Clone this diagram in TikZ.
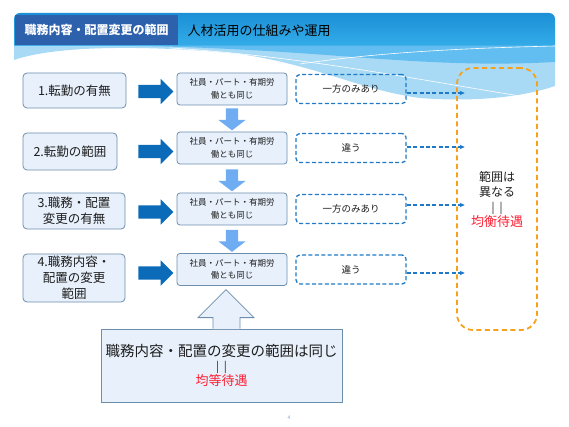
\documentclass[tikz,border=0pt]{standalone}
\usepackage{fontspec}
\setmainfont{Noto Sans CJK JP}
\usepackage{tikz}
\usetikzlibrary{arrows.meta, positioning, shapes.arrows, calc}
\definecolor{BandTop}{HTML}{1B90D6}
\definecolor{BandLow}{HTML}{34ACE9}
\definecolor{TabFill}{HTML}{2D61AB}
\definecolor{WaveMid}{HTML}{62BDF0}
\definecolor{WaveLite}{HTML}{A8DAF6}
\definecolor{BoxInk}{HTML}{6D8EAC}
\definecolor{BoxFill}{HTML}{E7F0FB}
\definecolor{RowArrow}{HTML}{0B6BB8}
\definecolor{StepArrow}{HTML}{6FACF1}
\definecolor{DashInk}{HTML}{1F79C6}
\definecolor{OrangeInk}{HTML}{F6A11C}
\definecolor{RedText}{HTML}{FF1F33}
\definecolor{TextInk}{HTML}{1E1E1E}
\definecolor{PageNum}{HTML}{8AA3CC}

\begin{document}
\begin{tikzpicture}[x=1pt, y=-1pt, >=Stealth,
  leftbox/.style={draw=BoxInk, fill=BoxFill, rounded corners=4pt, line width=0.8pt,
    align=center, inner sep=0pt, text=TextInk,
    font=\fontsize{12.5}{16}\selectfont},
  midbox/.style={draw=BoxInk, fill=BoxFill, rounded corners=3pt, line width=0.8pt,
    align=center, inner sep=0pt, minimum width=110pt, minimum height=32pt,
    text=TextInk, font=\fontsize{8.5}{12.5}\selectfont},
  dashbox/.style={draw=DashInk, dash pattern=on 4pt off 2.4pt, rounded corners=4pt,
    line width=1.3pt, inner sep=0pt, minimum width=110pt, minimum height=29pt,
    text=TextInk, font=\fontsize{9.5}{12}\selectfont},
  rarrow/.style={single arrow, fill=RowArrow, inner xsep=0pt, inner ysep=6.5pt,
    minimum height=35pt, single arrow head extend=6pt, single arrow tip angle=90},
  darrow/.style={single arrow, fill=StepArrow, inner xsep=0pt, inner ysep=6pt,
    minimum height=22pt, single arrow head extend=7.5pt, single arrow tip angle=105,
    rotate=-90},
  dasharrow/.style={->, >={Stealth[length=5pt, width=4.5pt]}, DashInk,
    dash pattern=on 4pt off 2.4pt, line width=1.5pt}]
\useasboundingbox (0,0) rectangle (569,427);

% header band and wave
\shade[top color=BandTop, bottom color=BandLow]
  (14,46) [rounded corners=6pt]-- (14,13) -- (555,13) [sharp corners]-- (555,46) -- cycle;
\fill[WaveLite] (14,46) -- (555,46) -- (555,86)
  .. controls (520,98) and (470,102) .. (420,98)
  .. controls (360,90) and (320,66) .. (240,54)
  .. controls (160,46) and (60,44) .. (14,60) -- cycle;
\fill[WaveMid] (140,46) -- (555,46) -- (555,62)
  .. controls (480,66) and (420,62) .. (340,56)
  .. controls (260,50) and (200,47) .. (140,46) -- cycle;
\draw[white, line width=0.6pt] (170,48) .. controls (300,56) and (420,80) .. (520,96);
\draw[white, line width=0.6pt] (300,64) .. controls (380,52) and (470,48) .. (555,46);

\node[fill=TabFill, minimum width=163pt, minimum height=30pt, inner sep=0pt,
      text=white, font=\fontsize{12}{14}\selectfont\bfseries] (tab) at (96.5,30)
  {職務内容・配置変更の範囲};
\node[anchor=west, text=black, font=\fontsize{13}{15}\selectfont] (title) at (184,31)
  {人材活用の仕組みや運用};

% left column
\node[leftbox, minimum width=103pt, minimum height=35pt] (left1) at (74.5,90.5)
  {1.転勤の有無};
\node[leftbox, minimum width=94pt, minimum height=37pt] (left2) at (70,151.5)
  {2.転勤の範囲};
\node[leftbox, minimum width=102pt, minimum height=36pt] (left3) at (74,211)
  {3.職務・配置\\変更の有無};
\node[leftbox, minimum width=102pt, minimum height=48pt] (left4) at (74,278)
  {4.職務内容・\\配置の変更\\範囲};

% middle column
\node[midbox] (mid1) at (232,89) {社員・パート・有期労\\働とも同じ};
\node[midbox] (mid2) at (232,148) {社員・パート・有期労\\働とも同じ};
\node[midbox] (mid3) at (232,209) {社員・パート・有期労\\働とも同じ};
\node[midbox] (mid4) at (232,269.5) {社員・パート・有期労\\働とも同じ};

\node[rarrow] (ra1) at (152.5,91.5) {};
\node[rarrow] (ra2) at (152.5,151.5) {};
\node[rarrow] (ra3) at (152.5,212) {};
\node[rarrow] (ra4) at (152.5,273) {};

\node[darrow, anchor=tip] (da1) at ([yshift=1pt]mid2.north) {};
\node[darrow, anchor=tip] (da2) at ([yshift=1pt]mid3.north) {};
\node[darrow, anchor=tip] (da3) at ([yshift=1pt]mid4.north) {};

% dashed column
\node[dashbox, right=8pt of mid1] (dash1) {一方のみあり};
\node[dashbox, right=8pt of mid2] (dash2) {違う};
\node[dashbox, right=8pt of mid3] (dash3) {一方のみあり};
\node[dashbox, right=8pt of mid4] (dash4) {違う};

\node[draw=OrangeInk, dash pattern=on 5pt off 3.5pt, line width=1.8pt,
      rounded corners=16pt, minimum width=80pt, minimum height=262pt,
      align=center, text=TextInk, font=\fontsize{12}{15}\selectfont] (orng) at (497,199)
  {範囲は\\異なる\\{\fontsize{11}{15}\selectfont |\hspace{5pt}|}\\
   {\color{RedText}\fontsize{13}{15}\selectfont 均衡待遇}};

\draw[dasharrow] ([yshift=-4pt]dash1.east) -- ++(58,0);
\draw[dasharrow] ([yshift=1pt]dash2.east) -- ++(58,0);
\draw[dasharrow] ([yshift=4pt]dash3.east) -- ++(58,0);
\draw[dasharrow] ([yshift=-3.5pt]dash4.east) -- ++(58,0);

% bottom callout
\node[draw=BoxInk, fill=BoxFill, line width=0.8pt, minimum width=241pt,
      minimum height=73pt, inner sep=0pt, align=center, text=TextInk,
      font=\fontsize{14.5}{15}\selectfont] (eqbox) at (221.5,365.5)
  {職務内容・配置の変更の範囲は同じ\\[-1pt]
   {\fontsize{11}{14}\selectfont |\hspace{5pt}|}\\
   {\color{RedText}\fontsize{13}{14}\selectfont 均等待遇}};
\fill[BoxFill] ([xshift=-8.5pt, yshift=-0.5pt]eqbox.north) -- ++(0,-11.5) -- ++(-15,0)
  -- ++(28,-28) -- ++(28,28) -- ++(-14,0) -- ++(0,11.5) -- cycle;
\draw[BoxInk, line width=0.8pt] ([xshift=-8.5pt]eqbox.north) -- ++(0,-11) -- ++(-15,0)
  -- ++(28,-28) -- ++(28,28) -- ++(-14,0) -- ++(0,11);

\node[text=PageNum, font=\fontsize{5}{6}\selectfont] (pnum) at (289,418) {4};
\end{tikzpicture}
\end{document}
